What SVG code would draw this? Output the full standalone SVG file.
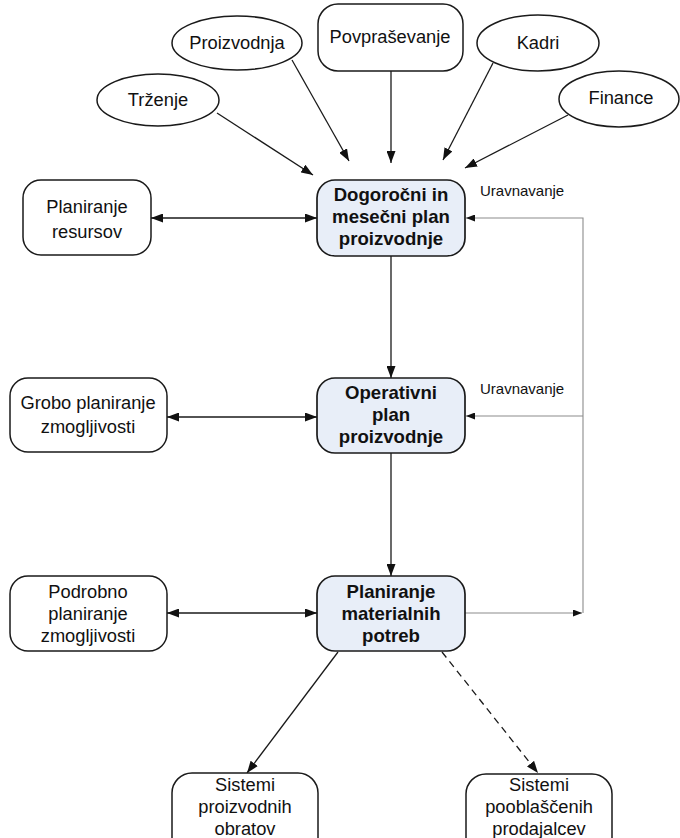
<svg xmlns="http://www.w3.org/2000/svg" width="680" height="838" viewBox="0 0 680 838">
  <style>
    .bg { fill: #ffffff; }
    .ell, .box { fill: #ffffff; stroke: #1a1a1a; stroke-width: 1.5; }
    .main { fill: #e8eef8; stroke: #1a1a1a; stroke-width: 1.7; }
    text { font-family: "Liberation Sans", Arial, sans-serif; fill: #111111; text-anchor: middle; }
    .lbl { font-size: 18.3px; }
    .bold { font-size: 18.6px; font-weight: bold; }
    .note { font-size: 15px; text-anchor: start; }
    .arr { fill: none; stroke: #1a1a1a; stroke-width: 1.3; }
    .dash { stroke-dasharray: 7 5; }
    .fb { fill: none; stroke: #8c8c8c; stroke-width: 1.1; }
  </style>
  <defs>
    <marker id="ah" markerUnits="userSpaceOnUse" markerWidth="12" markerHeight="9" refX="12" refY="4.5" orient="auto-start-reverse">
      <path d="M0,0 L12,4.5 L0,9 z" fill="#111111"/>
    </marker>
    <marker id="ahs" markerUnits="userSpaceOnUse" markerWidth="9" markerHeight="7" refX="9" refY="3.5" orient="auto-start-reverse">
      <path d="M0,0 L9,3.5 L0,7 z" fill="#111111"/>
    </marker>
  </defs>
  <rect class="bg" x="0" y="0" width="680" height="838"/>

  <!-- connectors -->
  <g id="connectors">
    <line class="arr" x1="217" y1="113" x2="313" y2="175" marker-end="url(#ah)"/>
    <line class="arr" x1="292" y1="60" x2="349" y2="161" marker-end="url(#ah)"/>
    <line class="arr" x1="391" y1="71" x2="391" y2="163" marker-end="url(#ah)"/>
    <line class="arr" x1="493" y1="63" x2="443" y2="160" marker-end="url(#ah)"/>
    <line class="arr" x1="568" y1="115" x2="465" y2="168" marker-end="url(#ah)"/>

    <line class="arr" x1="151" y1="218" x2="317" y2="218" marker-start="url(#ah)" marker-end="url(#ah)"/>
    <line class="arr" x1="167" y1="417" x2="317" y2="417" marker-start="url(#ah)" marker-end="url(#ah)"/>
    <line class="arr" x1="167" y1="613" x2="317" y2="613" marker-start="url(#ah)" marker-end="url(#ah)"/>

    <line class="arr" x1="391" y1="256" x2="391" y2="378" marker-end="url(#ah)"/>
    <line class="arr" x1="391" y1="453" x2="391" y2="576" marker-end="url(#ah)"/>

    <line class="arr" x1="338" y1="652" x2="247" y2="773" marker-end="url(#ah)"/>
    <line class="arr dash" x1="442" y1="652" x2="538" y2="773" marker-end="url(#ah)"/>

    <!-- feedback loop -->
    <line class="fb" x1="465" y1="613" x2="582" y2="613" marker-end="url(#ahs)"/>
    <polyline class="fb" points="583,613 583,218 466,218" marker-end="url(#ahs)"/>
    <line class="fb" x1="583" y1="416" x2="466" y2="416" marker-end="url(#ahs)"/>
  </g>

  <text class="note" x="480" y="196">Uravnavanje</text>
  <text class="note" x="480" y="394">Uravnavanje</text>

  <!-- input nodes -->
  <g id="trzenje">
    <ellipse class="ell" cx="158" cy="100" rx="61" ry="26"/>
    <text class="lbl" x="158" y="106">Trženje</text>
  </g>
  <g id="proizvodnja">
    <ellipse class="ell" cx="237" cy="43" rx="65" ry="27"/>
    <text class="lbl" x="237" y="49">Proizvodnja</text>
  </g>
  <g id="povprasevanje">
    <rect class="box" x="318" y="4" width="145" height="67" rx="20"/>
    <text class="lbl" x="390" y="43">Povpraševanje</text>
  </g>
  <g id="kadri">
    <ellipse class="ell" cx="538" cy="43" rx="61" ry="28"/>
    <text class="lbl" x="538" y="49">Kadri</text>
  </g>
  <g id="finance">
    <ellipse class="ell" cx="619" cy="99" rx="60" ry="28"/>
    <text class="lbl" x="621" y="104">Finance</text>
  </g>

  <!-- planning chain -->
  <g id="plan-dolgorocni">
    <rect class="main" x="317" y="180" width="148" height="76" rx="18"/>
    <text class="bold" x="391" y="201">Dogoročni in</text>
    <text class="bold" x="391" y="223">mesečni plan</text>
    <text class="bold" x="391" y="245">proizvodnje</text>
  </g>
  <g id="plan-operativni">
    <rect class="main" x="317" y="378" width="148" height="75" rx="18"/>
    <text class="bold" x="391" y="399">Operativni</text>
    <text class="bold" x="391" y="421">plan</text>
    <text class="bold" x="391" y="443">proizvodnje</text>
  </g>
  <g id="plan-materialni">
    <rect class="main" x="317" y="576" width="148" height="75" rx="18"/>
    <text class="bold" x="391" y="598">Planiranje</text>
    <text class="bold" x="391" y="620">materialnih</text>
    <text class="bold" x="391" y="642">potreb</text>
  </g>

  <!-- side nodes -->
  <g id="resursi">
    <rect class="box" x="23" y="180" width="128" height="75" rx="18"/>
    <text class="lbl" x="87" y="213">Planiranje</text>
    <text class="lbl" x="87" y="238">resursov</text>
  </g>
  <g id="grobo">
    <rect class="box" x="10" y="378" width="157" height="74" rx="18"/>
    <text class="lbl" x="88" y="409">Grobo planiranje</text>
    <text class="lbl" x="88" y="433">zmogljivosti</text>
  </g>
  <g id="podrobno">
    <rect class="box" x="10" y="576" width="157" height="75" rx="18"/>
    <text class="lbl" x="88" y="598">Podrobno</text>
    <text class="lbl" x="88" y="620">planiranje</text>
    <text class="lbl" x="88" y="642">zmogljivosti</text>
  </g>

  <!-- output nodes -->
  <g id="obrati">
    <rect class="box" x="172" y="773" width="146" height="85" rx="20"/>
    <text class="lbl" x="245" y="791">Sistemi</text>
    <text class="lbl" x="245" y="813">proizvodnih</text>
    <text class="lbl" x="245" y="835">obratov</text>
  </g>
  <g id="prodajalci">
    <rect class="box" x="466" y="774" width="146" height="85" rx="20"/>
    <text class="lbl" x="539" y="791">Sistemi</text>
    <text class="lbl" x="539" y="813">pooblaščenih</text>
    <text class="lbl" x="539" y="835">prodajalcev</text>
  </g>
</svg>
